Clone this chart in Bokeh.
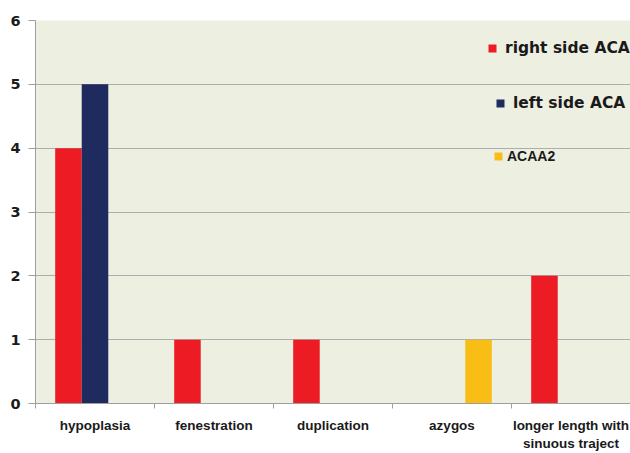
from bokeh.plotting import figure
from bokeh.models import (ColumnDataSource, Range1d, FixedTicker, Legend, LegendItem)
from bokeh.transform import dodge
from bokeh.embed import file_html
from bokeh.resources import INLINE

categories = ["hypoplasia", "fenestration", "duplication", "azygos",
              "longer length with\nsinuous traject"]
right_side_aca = [4, 1, 1, 0, 2]
left_side_aca = [5, 0, 0, 0, 0]
acaa2 = [0, 0, 0, 1, 0]
y_ticks = [0, 1, 2, 3, 4, 5, 6]

RED = "#ED1C24"
NAVY = "#1F2A5E"
YELLOW = "#F9BE16"
BG = "#EDEFE1"
GRID = "#ADADAD"
AXIS = "#9E9E9E"

idx = list(range(len(categories)))
src = ColumnDataSource(data=dict(x=idx, right=right_side_aca, left=left_side_aca, acaa2=acaa2))

p = figure(width=630, height=453, output_backend="svg", toolbar_location=None,
           x_range=Range1d(-0.5, len(categories) - 0.5), y_range=Range1d(0, 6),
           min_border_left=35, min_border_right=0, min_border_top=20, min_border_bottom=50)
p.background_fill_color = BG
p.border_fill_color = "white"
p.outline_line_color = None

bw = 0.223
r1 = p.vbar(x=dodge("x", -bw, range=p.x_range), top="right", width=bw, source=src,
            fill_color=RED, line_color=None)
r2 = p.vbar(x=dodge("x", 0, range=p.x_range), top="left", width=bw, source=src,
            fill_color=NAVY, line_color=None)
r3 = p.vbar(x=dodge("x", bw, range=p.x_range), top="acaa2", width=bw, source=src,
            fill_color=YELLOW, line_color=None)

# axes
p.xaxis.ticker = FixedTicker(ticks=idx, minor_ticks=[i - 0.5 for i in range(len(categories) + 1)])
p.xaxis.major_label_overrides = {i: c for i, c in zip(idx, categories)}
p.xaxis.major_tick_line_color = None
p.xaxis.major_tick_out = 5
p.xaxis.minor_tick_out = 5
p.xaxis.minor_tick_in = 0
p.xaxis.minor_tick_line_color = AXIS
p.xaxis.axis_line_color = AXIS
p.xaxis.major_label_standoff = 9
p.xaxis.major_label_text_font = "Liberation Sans"
p.xaxis.major_label_text_font_style = "bold"
p.xaxis.major_label_text_font_size = "13.5px"
p.xaxis.major_label_text_color = "#1a1a1a"
p.xaxis.major_label_text_line_height = 1.2

p.yaxis.ticker = FixedTicker(ticks=y_ticks, minor_ticks=[])
p.yaxis.major_tick_out = 7
p.yaxis.major_tick_in = 0
p.yaxis.major_tick_line_color = AXIS
p.yaxis.axis_line_color = AXIS
p.yaxis.major_label_standoff = 8
p.yaxis.major_label_text_font = "DejaVu Sans"
p.yaxis.major_label_text_font_style = "bold"
p.yaxis.major_label_text_font_size = "14.5px"
p.yaxis.major_label_text_color = "#1a1a1a"

p.xgrid.grid_line_color = None
p.ygrid.grid_line_color = GRID
p.ygrid.grid_line_width = 1

def make_legend(label, rend, loc, font, size, standoff):
    lg = Legend(items=[LegendItem(label=label, renderers=[rend])], location=loc,
                label_text_font=font, label_text_font_style="bold",
                label_text_font_size=size, label_text_color="#1a1a1a",
                glyph_width=10, glyph_height=10, label_standoff=standoff,
                padding=0, margin=0, border_line_color=None,
                background_fill_alpha=0, label_height=18)
    p.add_layout(lg, "center")

make_legend("right side ACA", r1, (452, 346), "DejaVu Sans", "15.5px", 8)
make_legend("left side ACA", r2, (460, 291), "DejaVu Sans", "15.5px", 8)
make_legend("ACAA2", r3, (458, 238), "Liberation Sans", "14px", 4)

open("out.html", "w").write(file_html(p, INLINE))
